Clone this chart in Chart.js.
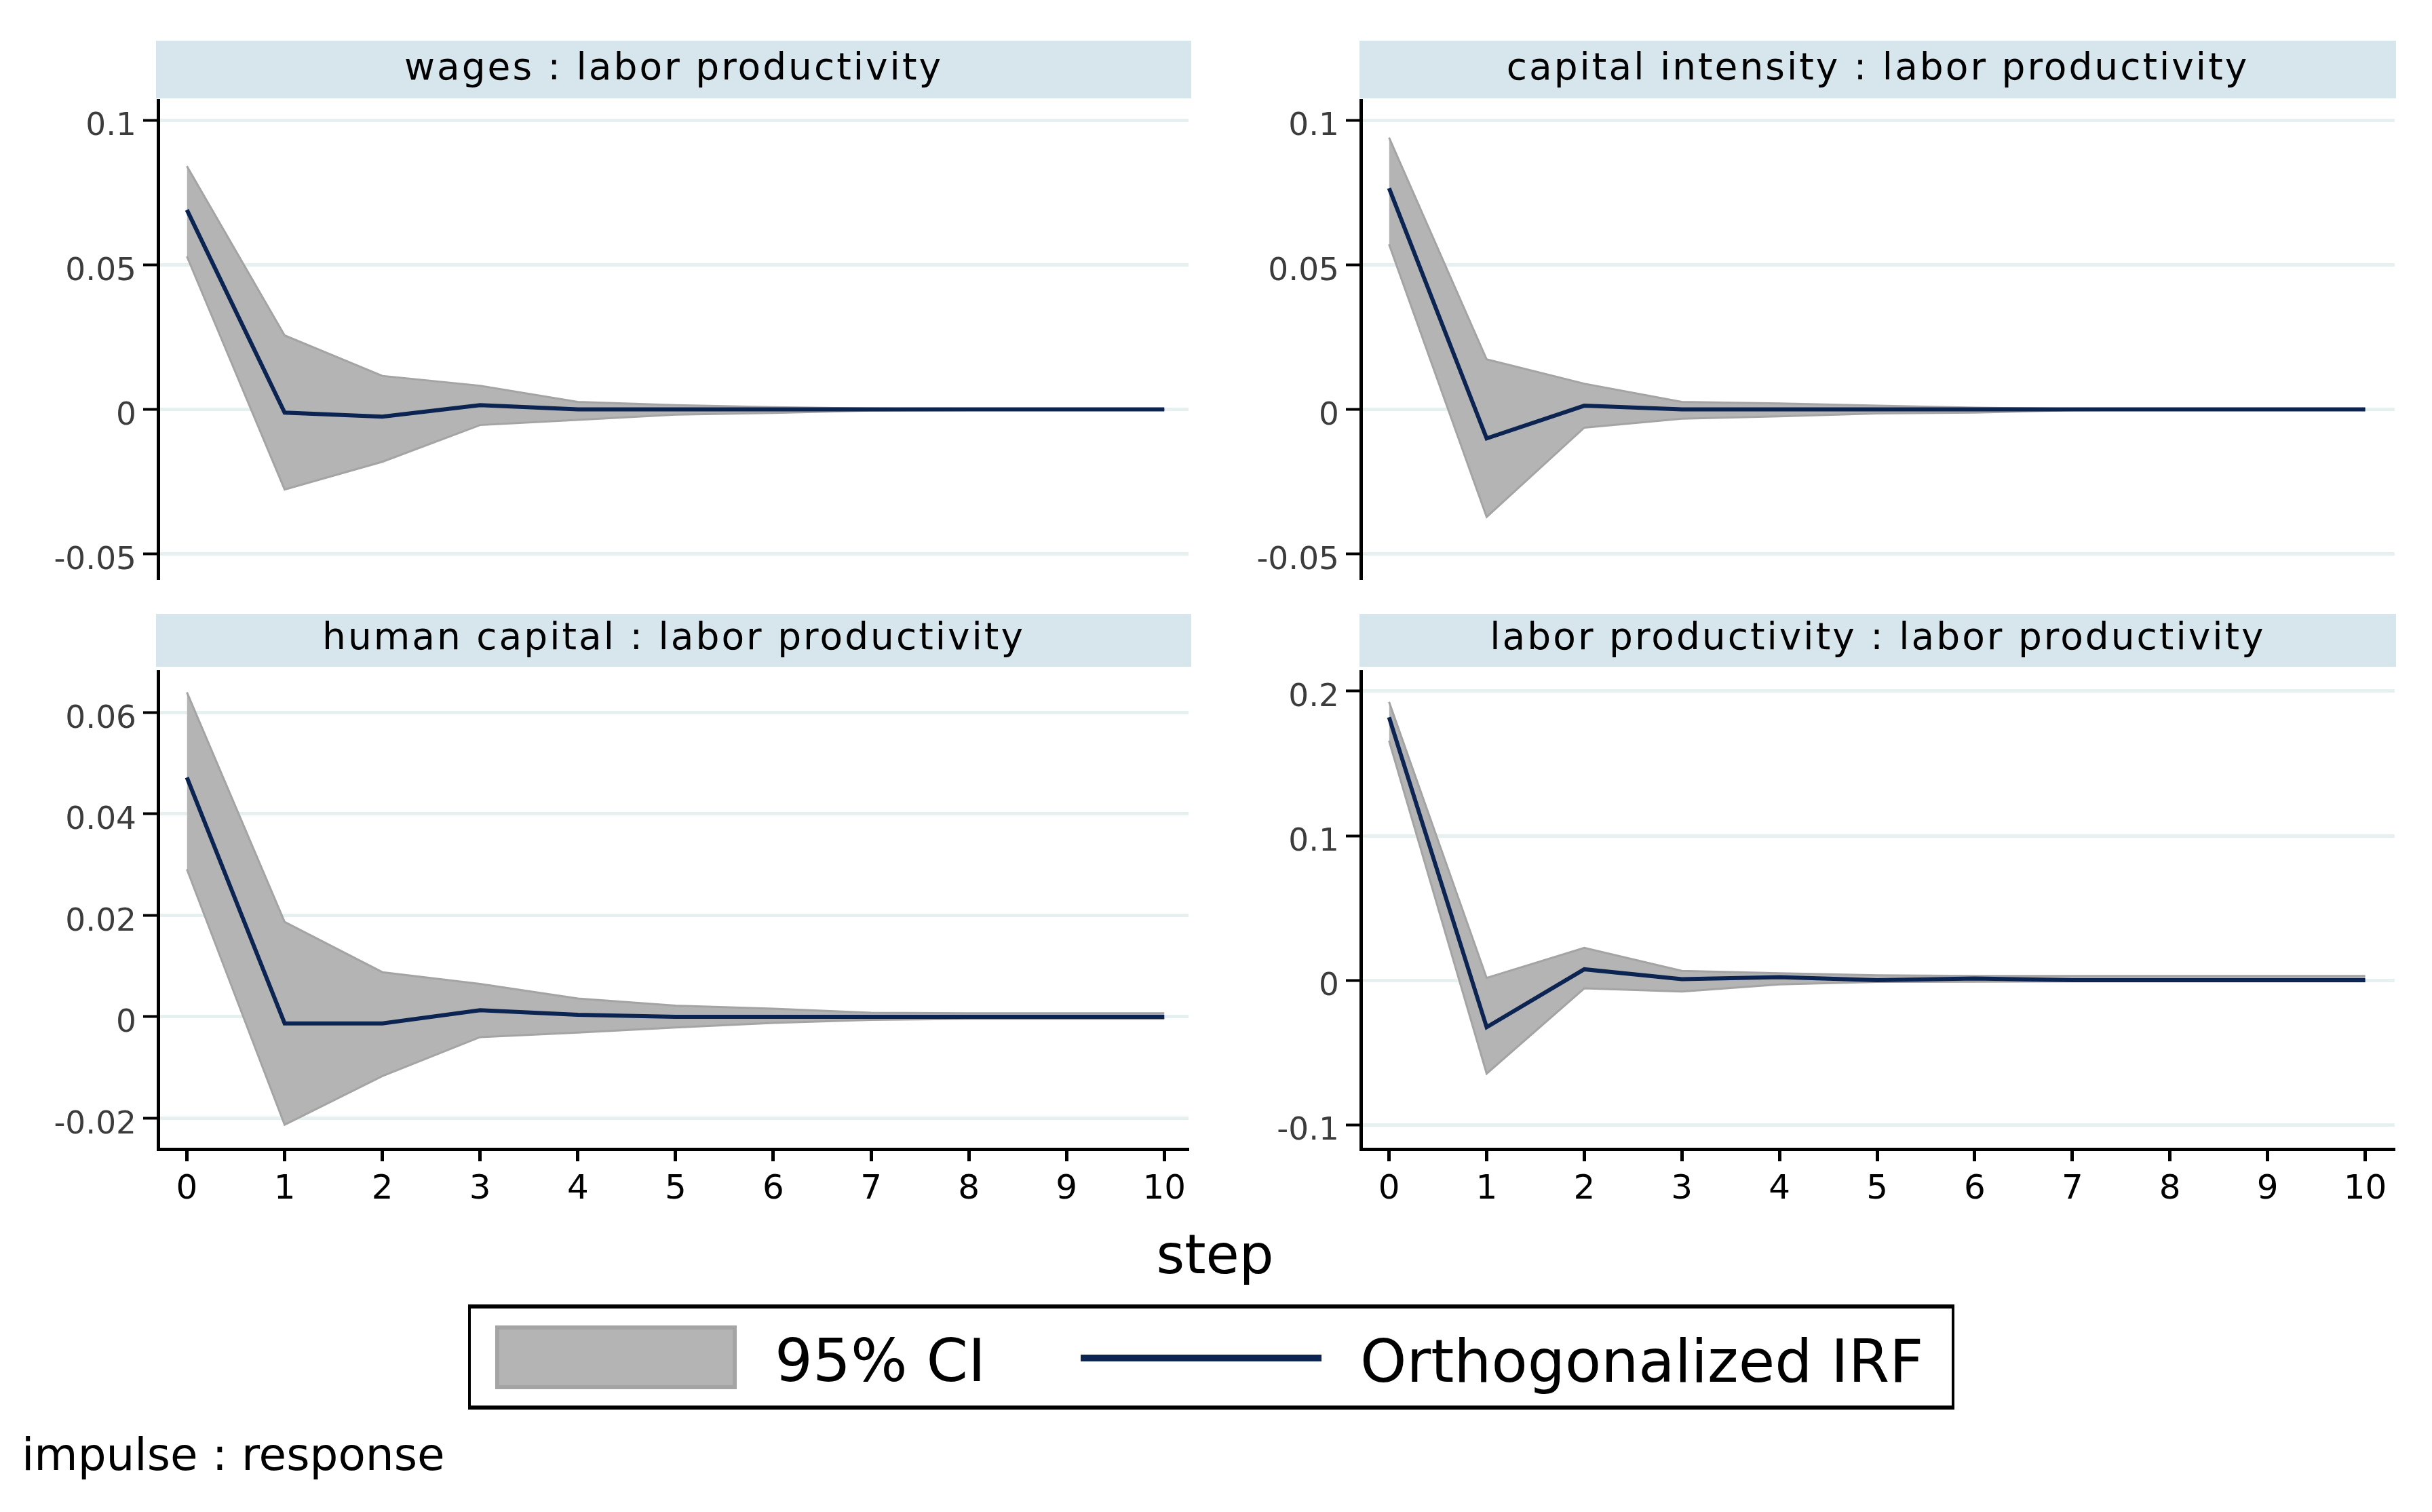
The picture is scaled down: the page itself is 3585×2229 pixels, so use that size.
<!DOCTYPE html>
<html><head><meta charset="utf-8">
<script src="https://cdn.jsdelivr.net/npm/chart.js@4.4.1/dist/chart.umd.min.js"></script>
<style>
html,body{margin:0;padding:0;background:#fff;}
body{width:3585px;height:2229px;position:relative;overflow:hidden;font-family:'DejaVu Sans',sans-serif;color:#000;}
.hdr{position:absolute;background:#d6e6ec;text-align:center;font-size:55px;letter-spacing:3px;white-space:nowrap;}
.txt{position:absolute;white-space:nowrap;}
canvas{position:absolute;}
</style></head><body>
<div id="root"></div>
<div class="txt" style="left:1591px;top:1800px;width:400px;text-align:center;font-size:80px;line-height:100px;">step</div>
<div style="position:absolute;left:690px;top:1923px;width:2191px;height:155px;box-sizing:border-box;border:4px solid #000;border-top-width:6px;border-bottom-width:6px;background:#fff;"></div>
<div style="position:absolute;left:730px;top:1954px;width:356px;height:94px;box-sizing:border-box;background:#b4b4b4;border:6px solid #a4a4a4;"></div>
<div class="txt" style="left:1142px;top:1956px;font-size:88px;line-height:100px;">95% CI</div>
<div style="position:absolute;left:1593px;top:1997px;width:355px;height:10px;background:#0c2452;"></div>
<div class="txt" style="left:2005px;top:1957px;font-size:87px;line-height:100px;">Orthogonalized IRF</div>
<div class="txt" style="left:32px;top:2105px;font-size:66px;line-height:80px;">impulse : response</div>
<script>
// ---- data ----
const steps = [0, 1, 2, 3, 4, 5, 6, 7, 8, 9, 10];
const stepLabels = ['0', '1', '2', '3', '4', '5', '6', '7', '8', '9', '10'];

const panelTitles = ['wages : labor productivity', 'capital intensity : labor productivity',
  'human capital : labor productivity', 'labor productivity : labor productivity'];

const wagesIRF = [0.0690, -0.0011, -0.0025, 0.0015, 0.0000, 0.0000, 0.0000, 0.0000, 0.0000, 0.0000, 0.0000];
const wagesLo  = [0.0529, -0.0277, -0.0181, -0.0054, -0.0036, -0.0018, -0.0012, -0.0004, -0.0002, -0.0001, -0.0001];
const wagesHi  = [0.0841, 0.0256, 0.0116, 0.0082, 0.0026, 0.0015, 0.0008, 0.0003, 0.0001, 0.0000, 0.0000];

const capIRF = [0.0765, -0.0100, 0.0013, 0.0000, 0.0000, 0.0000, 0.0000, 0.0000, 0.0000, 0.0000, 0.0000];
const capLo  = [0.0571, -0.0372, -0.0063, -0.0032, -0.0024, -0.0014, -0.0011, -0.0003, -0.0001, -0.0001, -0.0001];
const capHi  = [0.0940, 0.0173, 0.0089, 0.0026, 0.0021, 0.0013, 0.0006, 0.0002, 0.0001, 0.0001, 0.0001];

const humIRF = [0.0472, -0.0013, -0.0013, 0.0013, 0.0004, 0.0000, 0.0000, 0.0000, 0.0000, 0.0000, 0.0000];
const humLo  = [0.0291, -0.0213, -0.0117, -0.0040, -0.0031, -0.0021, -0.0012, -0.0006, -0.0004, -0.0004, -0.0004];
const humHi  = [0.0640, 0.0187, 0.0088, 0.0065, 0.0036, 0.0022, 0.0016, 0.0008, 0.0007, 0.0007, 0.0007];

const labIRF = [0.1820, -0.0325, 0.0076, 0.0008, 0.0022, 0.0000, 0.0012, 0.0000, 0.0000, 0.0000, 0.0000];
const labLo  = [0.1657, -0.0646, -0.0056, -0.0078, -0.0029, -0.0011, -0.0010, -0.0008, -0.0008, -0.0008, -0.0008];
const labHi  = [0.1926, 0.0016, 0.0224, 0.0065, 0.0049, 0.0035, 0.0030, 0.0030, 0.0030, 0.0030, 0.0030];

const yTicksTop = [-0.05, 0, 0.05, 0.1];
const yLabelsTop = ['-0.05', '0', '0.05', '0.1'];
const yTicksHum = [-0.02, 0, 0.02, 0.04, 0.06];
const yLabelsHum = ['-0.02', '0', '0.02', '0.04', '0.06'];
const yTicksLab = [-0.1, 0, 0.1, 0.2];
const yLabelsLab = ['-0.1', '0', '0.1', '0.2'];

// ---- layout (pixels) ----
const panels = [
  {title: panelTitles[0], irf: wagesIRF, lo: wagesLo, hi: wagesHi, yt: yTicksTop, yl: yLabelsTop,
   hdr: {l: 230, t: 60, w: 1526, h: 85, lh: 76},
   cv: {l: 0, t: 146, w: 1760, h: 766}, axisW: 233, padR: 8, padB: 60, xAxisH: 0, showX: false,
   xmin: -0.295, xmax: 10.248, ymin: -0.05826, ymax: 0.10732},
  {title: panelTitles[1], irf: capIRF, lo: capLo, hi: capHi, yt: yTicksTop, yl: yLabelsTop,
   hdr: {l: 2004, t: 60, w: 1528, h: 85, lh: 76},
   cv: {l: 1790, t: 146, w: 1795, h: 766}, axisW: 216, padR: 55, padB: 60, xAxisH: 0, showX: false,
   xmin: -0.289, xmax: 10.302, ymin: -0.05826, ymax: 0.10732},
  {title: panelTitles[2], irf: humIRF, lo: humLo, hi: humHi, yt: yTicksHum, yl: yLabelsHum,
   hdr: {l: 230, t: 905, w: 1526, h: 78, lh: 67},
   cv: {l: 0, t: 988, w: 1760, h: 812}, axisW: 233, padR: 8, padB: 0, xAxisH: 106, showX: true,
   xmin: -0.295, xmax: 10.248, ymin: -0.02609, ymax: 0.06836},
  {title: panelTitles[3], irf: labIRF, lo: labLo, hi: labHi, yt: yTicksLab, yl: yLabelsLab,
   hdr: {l: 2004, t: 905, w: 1528, h: 78, lh: 67},
   cv: {l: 1790, t: 988, w: 1795, h: 812}, axisW: 216, padR: 55, padB: 0, xAxisH: 106, showX: true,
   xmin: -0.289, xmax: 10.302, ymin: -0.11682, ymax: 0.21453}
];

Chart.defaults.font.family = "'DejaVu Sans', sans-serif";
const root = document.getElementById('root');
const toPts = arr => steps.map((s, i) => ({x: s, y: arr[i]}));

panels.forEach(p => {
  const c = document.createElement('canvas');
  c.width = p.cv.w; c.height = p.cv.h;
  c.style.left = p.cv.l + 'px'; c.style.top = p.cv.t + 'px';
  c.style.width = p.cv.w + 'px'; c.style.height = p.cv.h + 'px';
  root.appendChild(c);
  const h = document.createElement('div');
  h.className = 'hdr';
  h.style.left = p.hdr.l + 'px'; h.style.top = p.hdr.t + 'px';
  h.style.width = p.hdr.w + 'px'; h.style.height = p.hdr.h + 'px';
  h.style.lineHeight = p.hdr.lh + 'px';
  h.textContent = p.title;
  root.appendChild(h);

  new Chart(c, {
    type: 'line',
    data: {
      datasets: [
        {label: 'Orthogonalized IRF', data: toPts(p.irf), borderColor: '#0c2452', borderWidth: 6,
         pointRadius: 0, fill: false, tension: 0},
        {label: 'lower', data: toPts(p.lo), borderColor: '#a4a4a4', borderWidth: 3,
         pointRadius: 0, fill: false, tension: 0},
        {label: '95% CI', data: toPts(p.hi), borderColor: '#a4a4a4', borderWidth: 3,
         backgroundColor: '#b4b4b4', pointRadius: 0, fill: '-1', tension: 0}
      ]
    },
    options: {
      responsive: false, animation: false, devicePixelRatio: 1,
      layout: {padding: {left: 0, right: p.padR, top: 0, bottom: p.padB}},
      plugins: {legend: {display: false}, tooltip: {enabled: false}, title: {display: false}},
      scales: {
        x: {
          type: 'linear', min: p.xmin, max: p.xmax, display: p.showX,
          afterBuildTicks: s => { s.ticks = steps.map(v => ({value: v})); },
          afterFit: s => { s.height = p.xAxisH; s.paddingLeft = 0; s.paddingRight = 0; },
          grid: {drawOnChartArea: false, drawTicks: true, tickLength: 18, tickColor: '#000', tickWidth: 5},
          border: {display: true, color: '#000', width: 5},
          ticks: {autoSkip: false, maxRotation: 0, padding: 12, color: '#000',
                  font: {size: 50}, callback: v => stepLabels[steps.indexOf(v)]}
        },
        y: {
          type: 'linear', min: p.ymin, max: p.ymax,
          afterBuildTicks: s => { s.ticks = p.yt.map(v => ({value: v})); },
          afterFit: s => { s.width = p.axisW; s.paddingTop = 0; s.paddingBottom = 0; },
          grid: {color: '#e6f0f1', lineWidth: 5, drawTicks: true, tickLength: 22, tickColor: '#000', tickWidth: 4},
          border: {display: true, color: '#000', width: 5},
          ticks: {autoSkip: false, padding: 10, color: '#3c3c3c', labelOffset: 10,
                  font: {size: 47}, callback: v => p.yl[p.yt.indexOf(v)]}
        }
      }
    }
  });
});
</script>
</body></html>
